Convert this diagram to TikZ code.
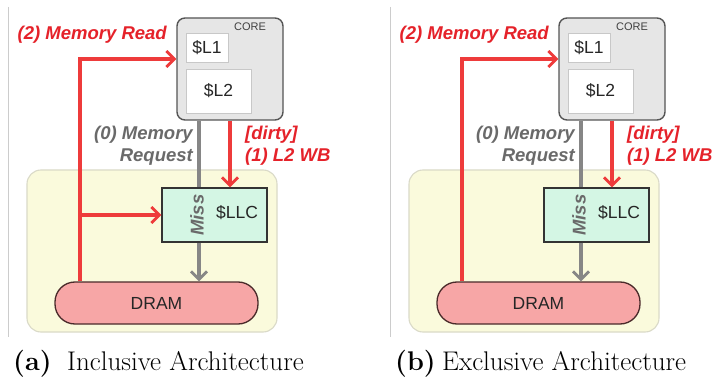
\documentclass[tikz,border=0pt]{standalone}
\usepackage{fontspec}
\setsansfont{Liberation Sans}
\usetikzlibrary{arrows.meta}
\definecolor{linered}{HTML}{EE3B3B}
\definecolor{textred}{HTML}{E5222A}
\definecolor{linegray}{HTML}{868686}
\definecolor{textgray}{HTML}{6A6A6A}
\definecolor{corefill}{HTML}{E6E6E6}
\definecolor{coreedge}{HTML}{555555}
\definecolor{boxedge}{HTML}{C8C8C8}
\definecolor{llcfill}{HTML}{D4F6E4}
\definecolor{llcedge}{HTML}{333333}
\definecolor{dramfill}{HTML}{F7A6A6}
\definecolor{dramedge}{HTML}{4A2A2A}
\definecolor{memfill}{HTML}{FAFADC}
\definecolor{memedge}{HTML}{DADAC8}
\tikzset{
  lbl/.style={font=\sffamily\fontsize{17.5}{20}\selectfont, text=black!85},
  corebox/.style={draw=coreedge, line width=1.4pt, fill=corefill, rounded corners=8pt, inner sep=0pt},
  cachebox/.style={draw=boxedge, line width=0.9pt, fill=white, inner sep=0pt, lbl},
  llcbox/.style={draw=llcedge, line width=1.3pt, fill=llcfill, inner sep=0pt, lbl},
  drambox/.style={draw=dramedge, line width=1.3pt, fill=dramfill, rounded corners=20pt, inner sep=0pt, lbl},
  membox/.style={draw=memedge, line width=1.1pt, fill=memfill, rounded corners=14pt, inner sep=0pt},
  redflow/.style={draw=linered, line width=3.4pt},
  redarrow/.style={redflow, -{Straight Barb[length=8pt,width=16pt,line width=2.8pt]}},
  grayflow/.style={draw=linegray, line width=3.2pt},
  grayarrow/.style={grayflow, -{Straight Barb[length=8pt,width=16pt,line width=2.8pt]}},
  redlbl/.style={font=\sffamily\bfseries\itshape\fontsize{18.5}{22}\selectfont, text=textred, inner sep=0pt},
  graylbl/.style={font=\sffamily\bfseries\itshape\fontsize{18.5}{22}\selectfont, text=textgray, inner sep=0pt},
  caption/.style={font=\fontsize{27}{30}\selectfont, inner sep=0pt, anchor=base west},
  divider/.style={draw=black!20, line width=0.9pt},
}
% One panel of the figure: #1 = name prefix, #2 = horizontal offset
\newcommand\cachepanel[2]{%
  \begin{scope}[xshift=#2]
    \draw[divider] (8,7) -- (8,337);
    \node[membox, minimum width=250pt, minimum height=162pt] (#1mem) at (152,251) {};
    \node[corebox, minimum width=106pt, minimum height=102pt] (#1core) at (230,69) {};
    \node[font=\sffamily\fontsize{11}{12}\selectfont, text=black!75, inner sep=0pt] (#1corelbl) at (250,27) {CORE};
    \node[cachebox, minimum width=42pt, minimum height=29pt] (#1l1) at (207,47.5) {\$L1};
    \node[cachebox, minimum width=65pt, minimum height=44pt] (#1l2) at (218.5,91) {\$L2};
    \node[llcbox, minimum width=105pt, minimum height=54pt] (#1llc) at (214.5,215) {};
    \node[lbl, inner sep=0pt] (#1llclbl) at (237,213) {\$LLC};
    \node[drambox, minimum width=203pt, minimum height=42pt] (#1dram) at (156.5,303) {DRAM};
    % memory request path: core to LLC, miss, LLC to DRAM
    \coordinate (#1gx) at (199,0);
    \draw[grayflow] (#1gx |- #1core.south) -- (#1gx |- #1llc.north);
    \node[graylbl, rotate=90] (#1miss) at (197,215) {Miss};
    \draw[grayarrow] (#1gx |- #1llc.south) -- (#1gx |- #1dram.north);
    % dirty L2 write-back
    \coordinate (#1wx) at (230,0);
    \draw[redarrow] (#1wx |- #1core.south) -- (#1wx |- #1llc.north);
    % memory read back to the core
    \coordinate (#1turn) at (80,59);
    \draw[redarrow] (#1turn |- #1dram.north) -- (#1turn) -- (#1turn -| #1core.west);
    % labels
    \node[redlbl, anchor=east] (#1readlbl) at (167,35) {(2) Memory Read};
    \node[graylbl, anchor=east, align=right] (#1reqlbl) at (193,146) {(0) Memory\\Request};
    \node[redlbl, anchor=west, align=left] (#1wblbl) at (245,146) {[dirty]\\(1) L2 WB};
  \end{scope}%
}
\begin{document}
\begin{tikzpicture}[x=1pt,y=-1pt]
  \useasboundingbox[fill=white] (0,0) rectangle (713,377);
  \cachepanel{a}{0pt}
  % inclusive LLC is filled on the way back
  \draw[redarrow] (aturn |- allc.west) -- (allc.west);
  \node[caption] (capa) at (13,370) {\textbf{(a)}};
  \node[caption] (capatext) at (67,370) {Inclusive Architecture};
  \cachepanel{b}{382pt}
  \node[caption] (capb) at (395,370) {\textbf{(b)}};
  \node[caption] (capbtext) at (442,370) {Exclusive Architecture};
\end{tikzpicture}
\end{document}
